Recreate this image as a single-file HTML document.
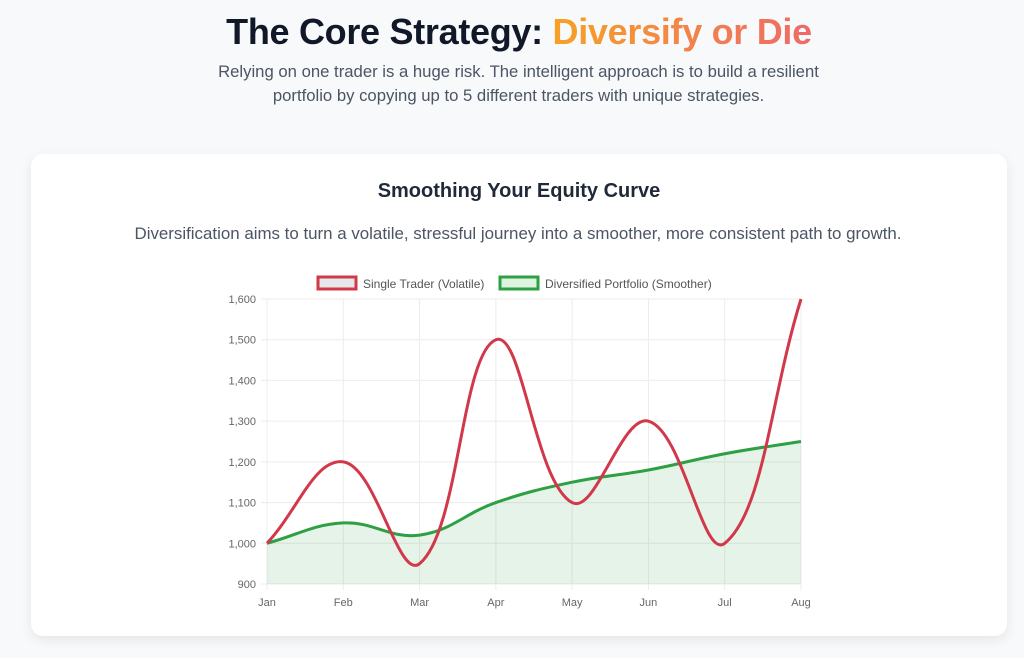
<!DOCTYPE html>
<html><head><meta charset="utf-8">
<style>
body{margin:0;width:1024px;height:658px;background:#f8f9fb;font-family:"Liberation Sans",sans-serif;overflow:hidden;position:relative}
h1{position:absolute;top:11px;left:0;width:1038px;text-align:center;margin:0;font-size:36px;font-weight:bold;color:#111827;letter-spacing:-0.3px}
h1 span{background:linear-gradient(90deg,#f7a124,#ee6a6a);-webkit-background-clip:text;background-clip:text;color:transparent}
.sub{position:absolute;top:60px;left:0;width:1037px;text-align:center;font-size:16.7px;line-height:24px;color:#4b5563}
.card{position:absolute;left:31px;top:154px;width:976px;height:482px;background:#fff;border-radius:12px;box-shadow:0 4px 12px rgba(0,0,0,0.08)}
svg{position:absolute;left:0;top:0}
</style></head><body>
<h1>The Core Strategy: <span>Diversify or Die</span></h1>
<div class="sub">Relying on one trader is a huge risk. The intelligent approach is to build a resilient<br>portfolio by copying up to 5 different traders with unique strategies.</div>
<div class="card"></div>
<svg width="1024" height="658" font-family="Liberation Sans, sans-serif">
<text x="519" y="197" text-anchor="middle" font-size="20" font-weight="bold" fill="#1f2937">Smoothing Your Equity Curve</text>
<text x="518" y="239" text-anchor="middle" font-size="16.9" fill="#4b5563">Diversification aims to turn a volatile, stressful journey into a smoother, more consistent path to growth.</text>
<rect x="318" y="277" width="38" height="12" fill="#e5e7eb" stroke="#d1394a" stroke-width="3"/>
<text x="363" y="288" font-size="12" fill="#555">Single Trader (Volatile)</text>
<rect x="500" y="277" width="38" height="12" fill="#dcf3df" stroke="#2ea043" stroke-width="3"/>
<text x="545" y="288" font-size="12" fill="#555">Diversified Portfolio (Smoother)</text>
<g id="grid"></g>
<path id="fill" fill="rgba(46,160,67,0.12)"/>
<path id="g" fill="none" stroke="#2ea043" stroke-width="3"/>
<path id="r" fill="none" stroke="#d1394a" stroke-width="3"/>
</svg>
<script>
var X0=267,dx=(801-267)/7,Y0=584,ky=(584-299)/700;
function Y(v){return Y0-(v-900)*ky}
var g=document.getElementById('grid'),s='';
var months=['Jan','Feb','Mar','Apr','May','Jun','Jul','Aug'];
for(var i=0;i<8;i++){var x=X0+i*dx;s+='<line x1="'+x+'" y1="299" x2="'+x+'" y2="590" stroke="#ececec"/>';s+='<text x="'+x+'" y="606" font-size="11" fill="#666" text-anchor="middle">'+months[i]+'</text>';}
for(var v=900;v<=1600;v+=100){var y=Y(v);s+='<line x1="261" y1="'+y+'" x2="801" y2="'+y+'" stroke="#ececec"/>';var lab=v<1000?String(v):(v/1000|0)+','+String(v%1000).padStart(3,'0');s+='<text x="256" y="'+(y+4)+'" font-size="11" fill="#666" text-anchor="end">'+lab+'</text>';}
g.innerHTML=s;
function path(d){var p=d.map(function(v,i){return[X0+i*dx,Y(v)]});var t=0.4,o='M'+p[0][0]+','+p[0][1];
var cps=p.map(function(c,i){var a=p[i-1]||c,b=p[i+1]||c;var d1=Math.hypot(c[0]-a[0],c[1]-a[1]),d2=Math.hypot(b[0]-c[0],b[1]-c[1]);var s1=d1/(d1+d2)||0,s2=d2/(d1+d2)||0;var fa=t*s1,fb=t*s2;return{p:[c[0]-fa*(b[0]-a[0]),c[1]-fa*(b[1]-a[1])],n:[c[0]+fb*(b[0]-a[0]),c[1]+fb*(b[1]-a[1])]}});
for(var i=1;i<p.length;i++){o+=' C'+cps[i-1].n+' '+cps[i].p+' '+p[i];}return o;}
var gp=path([1000,1050,1020,1100,1150,1180,1220,1250]);
document.getElementById('g').setAttribute('d',gp);
document.getElementById('fill').setAttribute('d',gp+' L801,584 L267,584 Z');
document.getElementById('r').setAttribute('d',path([1000,1200,950,1500,1100,1300,1000,1600]));
</script>
</body></html>
